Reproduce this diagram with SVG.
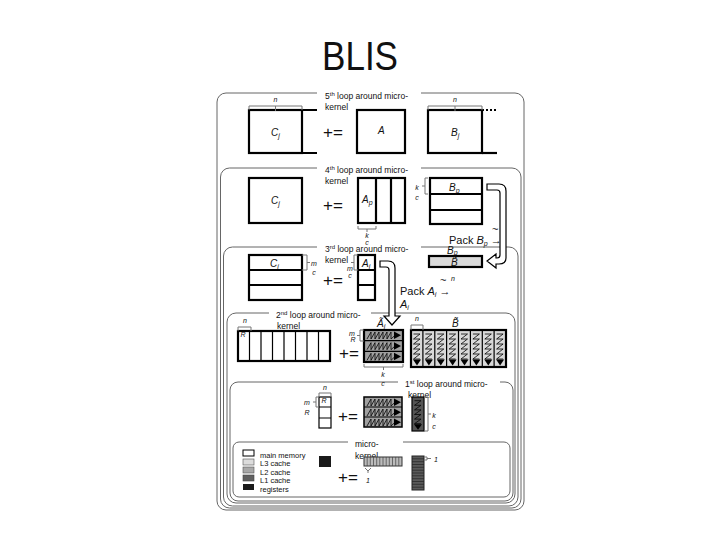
<svg xmlns="http://www.w3.org/2000/svg" width="720" height="540" viewBox="0 0 720 540">
<style>
.frame{fill:none;stroke:#666;stroke-width:1}
.gap{fill:#fff}
.box{stroke:#000;stroke-width:2.2}
.ln{fill:none;stroke:#000;stroke-width:1.2}
.br{fill:none;stroke:#777;stroke-width:1}
.lbl{font-family:"Liberation Sans",Arial,sans-serif;font-size:8.5px;fill:#111}
.leg{font-family:"Liberation Sans",Arial,sans-serif;font-size:7.5px;fill:#111}
.math{font-family:"Liberation Sans",Arial,sans-serif;font-size:10px;font-style:italic;fill:#111}
.sm{font-family:"Liberation Sans",Arial,sans-serif;font-size:7px;font-style:italic;fill:#111;text-anchor:middle}
.op{font-family:"Liberation Sans",Arial,sans-serif;font-size:17px;fill:#111;text-anchor:middle}
.pack{font-family:"Liberation Sans",Arial,sans-serif;font-size:11px;fill:#111}
.pipe{fill:#fff;stroke:#000;stroke-width:1.2}
.zz{fill:none;stroke:#000;stroke-width:0.8}
</style>
<defs>
<g id="zzA">
<polyline class="zz" points="3,9 7,2 7,9 11,2 11,9 15,2 15,9 19,2 19,9 23,2 23,9 27,2 27,9 31,5.3"/>
<polygon points="30,1.5 37,5.3 30,9" fill="#000"/>
</g>
<g id="zzB">
<polyline class="zz" points="2.5,4 9,4 2.5,9 9,9 2.5,14 9,14 2.5,19 9,19 2.5,24 9,24 2.5,29 9,29"/>
<polygon points="2,29.5 10,29.5 6,35.5" fill="#000"/>
</g>
</defs>
<rect width="720" height="540" fill="#fff"/>
<text x="360" y="70" text-anchor="middle" font-family="Liberation Sans, Arial, sans-serif" font-size="41" textLength="76" lengthAdjust="spacingAndGlyphs" fill="#111">BLIS</text>

<g id="frames">
<rect class="frame" x="217" y="93" width="307" height="417" rx="9"/>
<rect class="frame" x="220.5" y="168" width="300.5" height="340" rx="9"/>
<rect class="frame" x="223.5" y="247" width="294.5" height="259" rx="9"/>
<rect class="frame" x="227" y="313" width="288" height="190" rx="9"/>
<rect class="frame" x="230" y="382" width="283" height="119" rx="8"/>
<rect class="frame" x="233" y="442" width="277" height="55" rx="6"/>
<rect class="gap" x="317" y="90" width="104" height="6"/>
<rect class="gap" x="317" y="165" width="104" height="6"/>
<rect class="gap" x="317" y="244" width="104" height="6"/>
<rect class="gap" x="269" y="310" width="102" height="6"/>
<rect class="gap" x="398" y="379" width="102" height="6"/>
<rect class="gap" x="348" y="439" width="55" height="6"/>
<text class="lbl" x="325" y="99">5<tspan font-size="6" dy="-3">th</tspan><tspan dy="3"> loop around micro-</tspan></text>
<text class="lbl" x="325" y="110">kernel</text>
<text class="lbl" x="325" y="173">4<tspan font-size="6" dy="-3">th</tspan><tspan dy="3"> loop around micro-</tspan></text>
<text class="lbl" x="325" y="184">kernel</text>
<text class="lbl" x="325" y="252">3<tspan font-size="6" dy="-3">rd</tspan><tspan dy="3"> loop around micro-</tspan></text>
<text class="lbl" x="325" y="263">kernel</text>
<text class="lbl" x="276" y="318">2<tspan font-size="6" dy="-3">nd</tspan><tspan dy="3"> loop around micro-</tspan></text>
<text class="lbl" x="277" y="329">kernel</text>
<text class="lbl" x="405" y="387">1<tspan font-size="6" dy="-3">st</tspan><tspan dy="3"> loop around micro-</tspan></text>
<text class="lbl" x="408" y="398">kernel</text>
<text class="lbl" x="355" y="447">micro-</text>
<text class="lbl" x="355" y="459">kernel</text>
</g>

<g id="loop5">
<rect class="box" fill="#fff" x="249" y="110" width="53" height="43"/>
<path d="M302,110 H317 M302,153 H317" stroke="#000" stroke-width="2.2"/>
<path class="br" d="M249,110 V106 H302 V110 M275.5,106 V111"/>
<text class="sm" x="275.5" y="102">n</text>
<text class="math" x="271" y="136">C<tspan font-size="7" dy="2">j</tspan></text>
<text class="op" x="333" y="138">+=</text>
<rect class="box" fill="#fff" x="357" y="110" width="48" height="43"/>
<text class="math" x="378" y="134">A</text>
<rect class="box" fill="#fff" x="428" y="110" width="54" height="43"/>
<path d="M482,110 H497" stroke="#000" stroke-width="2.2" stroke-dasharray="2,2"/>
<path d="M482,153 H497" stroke="#000" stroke-width="2.2"/>
<path class="br" d="M428,110 V106 H482 V110 M455,106 V111"/>
<text class="sm" x="455" y="102">n</text>
<text class="math" x="451" y="136">B<tspan font-size="7" dy="2">j</tspan></text>
</g>

<g id="loop4">
<rect class="box" fill="#fff" x="249" y="178" width="53" height="45"/>
<text class="math" x="271" y="204">C<tspan font-size="7" dy="2">j</tspan></text>
<text class="op" x="333" y="211">+=</text>
<rect class="box" fill="#fff" x="358" y="178" width="47" height="45"/>
<path d="M376,178 V223 M391,178 V223" stroke="#000" stroke-width="2.2"/>
<text class="math" x="362" y="203">A<tspan font-size="7" dy="2">p</tspan></text>
<path class="br" d="M358,226 V229 H376 V226 M367,229 V232"/>
<text class="sm" x="367" y="238">k</text>
<text class="sm" x="367" y="244.5" font-size="6">c</text>
<rect class="box" fill="#fff" x="430" y="178" width="52" height="46"/>
<path d="M430,194 H482 M430,210 H482" stroke="#000" stroke-width="2.2"/>
<text class="math" x="449" y="191">B<tspan font-size="7" dy="2">p</tspan></text>
<path class="br" d="M428,178 H425 V194 H428 M425,186 H422"/>
<text class="sm" x="417" y="190">k</text>
<text class="sm" x="417" y="200">c</text>
<text class="pack" x="449" y="244">Pack <tspan font-style="italic">B</tspan><tspan font-size="7" font-style="italic" dy="2">p</tspan><tspan dy="-2"> →</tspan></text>
<text class="pack" x="492" y="233">~</text>
</g>

<g id="loop3">
<rect class="box" fill="#fff" x="249" y="255" width="53" height="45"/>
<path d="M249,270 H302 M249,285 H302" stroke="#000" stroke-width="2.2"/>
<text class="math" x="270" y="267">C<tspan font-size="7" dy="2">i</tspan></text>
<path class="br" d="M302,255 H307 V270 H302 M307,262.5 H310"/>
<text class="sm" x="314" y="266">m</text>
<text class="sm" x="314" y="275">c</text>
<text class="op" x="333" y="286">+=</text>
<rect class="box" fill="#fff" x="358" y="255" width="17" height="45"/>
<path d="M358,270 H375 M358,285 H375" stroke="#000" stroke-width="2.2"/>
<text class="math" x="362" y="267">A<tspan font-size="7" dy="2">i</tspan></text>
<path class="br" d="M358,255 H354 V270 H358 M354,262.5 H351"/>
<text class="sm" x="350" y="270.5">m</text>
<text class="sm" x="350" y="278">c</text>
<text class="pack" x="400" y="295">Pack <tspan font-style="italic">A</tspan><tspan font-size="7" font-style="italic" dy="2">i</tspan><tspan dy="-2"> →</tspan></text>
<text class="pack" x="440" y="284">~</text>
<text class="pack" x="400" y="308" font-style="italic">A<tspan font-size="7" dy="2">i</tspan></text>
<text class="math" x="447" y="253.5">B<tspan font-size="7" dy="1.5">p</tspan></text>
<rect class="box" fill="#d9d9d9" x="429" y="256" width="53" height="11"/>
<text class="math" x="451" y="266">B&#771;</text>
<text class="sm" x="453" y="281">n</text>
</g>

<g id="loop2">
<rect class="box" fill="#fff" x="238" y="331" width="92" height="30"/>
<path class="ln" d="M249.5,331 V361 M261,331 V361 M272.5,331 V361 M284,331 V361 M295.5,331 V361 M307,331 V361 M318.5,331 V361"/>
<path class="br" d="M238,331 V327 H251 V331"/>
<text class="sm" x="245" y="323">n</text>
<text class="sm" x="243" y="337" font-size="5">R</text>
<text class="op" x="349" y="359">+=</text>
<rect class="box" fill="#a0a0a0" x="364" y="330" width="39" height="32"/>
<path class="ln" d="M364,340.7 H403 M364,351.3 H403"/>
<use href="#zzA" x="364" y="330"/>
<use href="#zzA" x="364" y="340.7"/>
<use href="#zzA" x="364" y="351.3"/>
<path class="br" d="M364,330 H360 V341 H364 M360,335.5 H357"/>
<text class="sm" x="352" y="336">m</text>
<text class="sm" x="353" y="342" font-size="5">R</text>
<path class="br" d="M364,364 V367 H403 V364 M383.5,367 V370"/>
<text class="sm" x="383" y="377">k</text>
<text class="sm" x="383" y="386">c</text>
<text class="math" x="377" y="327">Ã<tspan font-size="7" dy="2">i</tspan></text>
<rect class="box" fill="#d9d9d9" x="411" y="330" width="95" height="37"/>
<path class="ln" d="M422.9,330 V367 M434.8,330 V367 M446.6,330 V367 M458.5,330 V367 M470.4,330 V367 M482.3,330 V367 M494.1,330 V367"/>
<use href="#zzB" x="411" y="330"/>
<use href="#zzB" x="422.9" y="330"/>
<use href="#zzB" x="434.8" y="330"/>
<use href="#zzB" x="446.6" y="330"/>
<use href="#zzB" x="458.5" y="330"/>
<use href="#zzB" x="470.4" y="330"/>
<use href="#zzB" x="482.3" y="330"/>
<use href="#zzB" x="494.1" y="330"/>
<path class="br" d="M411,330 V325 H423 V330"/>
<text class="sm" x="417" y="321">n</text>
<text class="math" x="452" y="327">B&#771;</text>
</g>

<g id="loop1">
<rect class="ln" fill="#fff" x="319" y="397" width="12" height="31"/>
<path class="ln" d="M319,407 H331 M319,418 H331"/>
<text class="sm" x="324" y="403" font-size="5">R</text>
<path class="br" d="M319,397 V393 H331 V397"/>
<text class="sm" x="325" y="390">n</text>
<path class="br" d="M319,397 H316 V407 H319 M316,402 H313"/>
<text class="sm" x="307" y="405">m</text>
<text class="sm" x="307" y="415" font-size="5">R</text>
<text class="op" x="348" y="422">+=</text>
<rect fill="#a0a0a0" stroke="#000" stroke-width="1.5" x="364" y="397" width="38" height="30"/>
<path class="ln" d="M364,407 H402 M364,417 H402"/>
<use href="#zzA" x="364" y="397"/>
<use href="#zzA" x="364" y="407"/>
<use href="#zzA" x="364" y="417"/>
<rect fill="#555" stroke="#000" stroke-width="1.2" x="412" y="397" width="12" height="34"/>
<use href="#zzB" transform="translate(412,397) scale(1,0.92)"/>
<path class="br" d="M424,397 H428 V431 H424 M428,414 H431"/>
<text class="sm" x="434" y="418">k</text>
<text class="sm" x="434" y="429">c</text>
</g>

<g id="microkernel">
<rect fill="#fff" stroke="#000" stroke-width="1" x="243" y="450" width="11" height="6"/>
<rect fill="#dcdcdc" stroke="#555" stroke-width="0.6" x="243" y="459" width="11" height="6"/>
<rect fill="#a8a8a8" stroke="#555" stroke-width="0.6" x="243" y="467" width="11" height="6"/>
<rect fill="#606060" stroke="#444" stroke-width="0.6" x="243" y="475" width="11" height="6"/>
<rect fill="#1a1a1a" x="243" y="484" width="11" height="6"/>
<text class="leg" x="260" y="457.5">main memory</text>
<text class="leg" x="260" y="466">L3 cache</text>
<text class="leg" x="260" y="474.5">L2 cache</text>
<text class="leg" x="260" y="483">L1 cache</text>
<text class="leg" x="260" y="491.5">registers</text>
<rect fill="#1a1a1a" x="319" y="456" width="12" height="11"/>
<text class="op" x="348" y="483">+=</text>
<rect fill="#bbb" stroke="#333" stroke-width="1" x="364" y="457" width="38" height="9"/>
<path stroke="#444" stroke-width="0.7" d="M367.2,457 V466 M370.3,457 V466 M373.5,457 V466 M376.7,457 V466 M379.8,457 V466 M383,457 V466 M386.2,457 V466 M389.3,457 V466 M392.5,457 V466 M395.7,457 V466 M398.8,457 V466"/>
<path class="br" d="M365,468 L368,471 L371,468 M368,471 V473"/>
<text class="sm" x="368" y="483" font-style="normal" font-size="8">1</text>
<rect fill="#5a5a5a" stroke="#222" stroke-width="1" x="412" y="456" width="12" height="34"/>
<path stroke="#222" stroke-width="0.7" d="M412,458.8 H424 M412,461.7 H424 M412,464.5 H424 M412,467.3 H424 M412,470.2 H424 M412,473 H424 M412,475.8 H424 M412,478.7 H424 M412,481.5 H424 M412,484.3 H424 M412,487.2 H424"/>
<path class="br" d="M424,457 H427 V460 H424 M427,458.5 H431"/>
<text class="sm" x="436" y="462" font-style="normal" font-size="8">1</text>
</g>

<g id="connectors">
<path class="pipe" d="M487,184 H499 Q506,184 506,191 V258 Q506,264 499,264 H496 V268 L487,261 L496,254 V258 H497 Q500,258 500,255 V193 Q500,190 497,190 H487 Z"/>
<path class="pipe" d="M380,261 H388 Q395,261 395,268 V316 H400 L392,325 L384,316 H389 V270 Q389,267 386,267 H380 Z"/>
</g>
</svg>
